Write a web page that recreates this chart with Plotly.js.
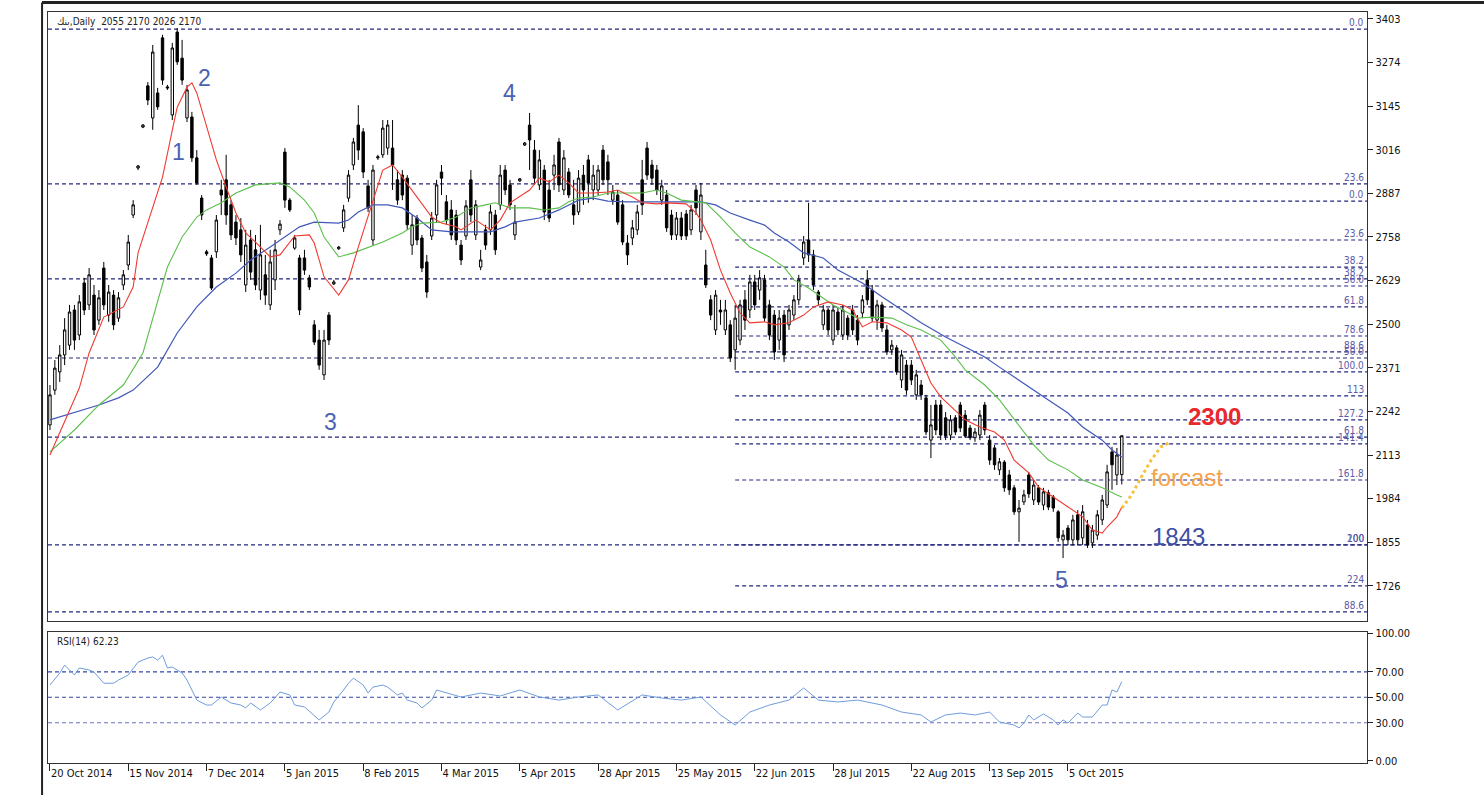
<!DOCTYPE html>
<html><head><meta charset="utf-8">
<script src="https://cdn.plot.ly/plotly-3.0.1.min.js"></script>
<style>html,body{margin:0;padding:0;background:#fff}#chart{width:1484px;height:795px}</style>
</head><body><div id="chart"></div>
<script>
// ---- tick labels (bar index based axis, 16 bars per label) ----
const dateTickIdx = [0,16,32,48,64,80,96,112,128,144,160,176,192,208];
const dateTickText = ["20 Oct 2014","15 Nov 2014","7 Dec 2014","5 Jan 2015","8 Feb 2015","4 Mar 2015","5 Apr 2015","28 Apr 2015","25 May 2015","22 Jun 2015","28 Jul 2015","22 Aug 2015","13 Sep 2015","5 Oct 2015"];
const priceTicks = [3403,3274,3145,3016,2887,2758,2629,2500,2371,2242,2113,1984,1855,1726];
const rsiTicks = [0,30,50,70,100];
const rsiTickText = ["0.00","30.00","50.00","70.00","100.00"];

// ---- daily OHLC ----
const openP = [2202,2305,2359,2409,2438,2542,2468,2622,2557,2586,
2512,2666,2527,2586,2518,2616,2675,2823,2962,3083,
3205,3110,3184,3347,3202,3119,3364,3287,3110,3113,
2992,2873,2714,2696,2714,2897,2927,2853,2802,2779,
2616,2749,2720,2601,2646,2557,2631,2779,3009,2867,
2725,2696,2696,2637,2498,2453,2350,2527,2619,2723,
2785,2873,2971,3089,3069,2909,2749,2992,3001,3021,
3021,2927,2941,2932,2734,2814,2755,2684,2761,2823,
2950,2862,2838,2823,2734,2761,2927,2764,2669,2779,
2779,2823,2853,2956,2912,2764,2924,3030,3089,3015,
2912,2956,2897,2941,3039,2897,2950,2853,2832,2941,
2986,2897,2897,3015,2980,2867,2882,2853,2740,2755,
2779,2927,3021,2971,2956,2867,2882,2823,2764,2814,
2826,2779,2897,2773,2675,2572,2483,2542,2483,2498,
2424,2453,2572,2542,2625,2601,2631,2557,2527,2453,
2527,2498,2527,2572,2696,2749,2705,2595,2498,2542,
2453,2536,2468,2518,2542,2512,2533,2631,2601,2512,
2557,2483,2424,2430,2335,2379,2379,2291,2320,2282,
2157,2261,2261,2223,2172,2223,2261,2231,2193,2164,
2172,2261,2157,2134,2069,2092,2054,2016,1945,1974,
2054,1980,2016,1965,2001,1989,1945,1862,1897,1862,
1936,1868,1906,1853,1876,1921,1965,2122,2054,2055];
const highP = [2320,2394,2438,2518,2557,2557,2586,2637,2666,2616,
2601,2684,2616,2601,2595,2660,2764,2867,2971,3092,
3216,3326,3199,3356,3208,3332,3376,3341,3208,3128,
3015,2882,2720,2705,2823,2927,3001,2867,2823,2814,
2779,2779,2764,2794,2705,2720,2749,2808,3021,2873,
2764,2705,2720,2646,2512,2483,2483,2536,2631,2731,
2853,2956,3051,3148,3080,2927,2971,3001,3104,3104,
3104,2956,2956,2941,2823,2823,2764,2705,2832,2927,
2971,2882,2867,2838,2749,2867,2956,2867,2720,2794,
2853,2838,2971,2971,2927,2853,2932,3039,3125,3045,
3015,2971,2927,3001,3051,3015,2962,2927,2956,2971,
3001,2971,2971,3030,3001,2912,2897,2867,2764,2808,
2853,2986,3039,2986,2971,2927,2897,2838,2832,2832,
2838,2853,2912,2918,2720,2586,2601,2572,2572,2512,
2557,2572,2601,2646,2646,2660,2646,2572,2542,2542,
2542,2557,2586,2646,2761,2859,2720,2601,2557,2548,
2557,2548,2557,2527,2557,2527,2586,2660,2616,2572,
2566,2498,2453,2438,2424,2394,2394,2365,2335,2291,
2261,2276,2276,2240,2231,2231,2270,2246,2202,2193,
2246,2270,2172,2143,2104,2098,2069,2024,1980,2010,
2063,2039,2024,2016,2010,1995,1950,1891,1906,1936,
1950,1965,1921,1906,1950,1995,2084,2137,2134,2170];
const lowP = [2187,2291,2329,2379,2424,2424,2453,2527,2542,2468,
2498,2542,2507,2483,2507,2601,2660,2814,2956,3080,
3148,3075,3134,3208,3193,3104,3267,3208,3098,2980,
2912,2808,2702,2601,2696,2823,2794,2749,2734,2684,
2595,2631,2601,2572,2557,2542,2601,2764,2844,2832,
2720,2527,2646,2601,2438,2365,2335,2438,2616,2720,
2773,2862,2956,2986,2932,2832,2734,2986,2992,3001,
2897,2853,2867,2779,2705,2734,2654,2578,2749,2802,
2882,2794,2749,2734,2675,2749,2802,2749,2660,2720,
2764,2705,2838,2882,2838,2749,2921,3027,2956,2912,
2897,2808,2802,2897,2891,2882,2873,2794,2823,2853,
2859,2867,2882,2912,2882,2853,2794,2734,2675,2734,
2764,2823,2927,2912,2882,2853,2773,2749,2749,2749,
2749,2764,2823,2749,2607,2512,2468,2498,2468,2388,
2365,2438,2483,2518,2542,2572,2507,2453,2394,2424,
2388,2483,2512,2557,2675,2684,2601,2557,2483,2468,
2438,2468,2453,2453,2468,2438,2518,2557,2507,2483,
2477,2409,2409,2350,2311,2291,2320,2276,2276,2172,
2104,2172,2157,2157,2157,2172,2181,2164,2157,2152,
2157,2172,2084,2069,2054,2004,1995,1936,1856,1965,
1986,1965,1965,1950,1950,1945,1856,1808,1847,1847,
1847,1847,1838,1838,1862,1906,1956,2010,2024,2026];
const closeP = [2291,2370,2409,2483,2536,2453,2566,2542,2646,2483,
2578,2557,2595,2498,2578,2646,2743,2853,2968,3089,
3163,3305,3143,3222,3199,3317,3276,3222,3193,2992,
2918,2823,2708,2607,2808,2882,2823,2764,2755,2705,
2734,2654,2616,2705,2586,2684,2720,2796,2867,2838,
2755,2542,2660,2610,2447,2379,2453,2453,2625,2728,
2838,2941,3039,3015,2950,2844,2956,2995,3080,3089,
2971,2867,2882,2794,2794,2749,2666,2595,2814,2912,
2932,2808,2764,2749,2690,2850,2823,2853,2690,2734,
2832,2720,2941,2897,2853,2802,2930,3036,3045,2932,
2986,2832,2814,2971,2912,2992,2882,2823,2932,2897,
2918,2941,2956,2927,2927,2891,2802,2743,2705,2785,
2832,2853,2941,2932,2897,2909,2785,2764,2814,2761,
2761,2838,2844,2882,2616,2527,2586,2536,2542,2400,
2518,2557,2512,2625,2557,2637,2518,2468,2418,2518,
2409,2542,2572,2631,2743,2705,2616,2572,2542,2483,
2542,2483,2542,2468,2483,2453,2572,2572,2518,2557,
2489,2418,2438,2359,2409,2305,2335,2350,2291,2181,
2202,2187,2172,2169,2217,2181,2193,2169,2164,2181,
2231,2187,2098,2084,2093,2016,2010,1945,1956,1995,
1998,2024,1974,2004,1959,1956,1868,1876,1862,1921,
1862,1945,1847,1891,1936,1980,2063,2084,2113,2170];

// ---- moving averages (bar index, value) ----
const maRedIdx = [0,6,8,11,15,17,18,21,23,25,26,28,29,30,32,34,36,38,40,42,45,47,50,53,54,56,59,61,63,66,68,70,72,75,78,80,83,84,87,90,92,94,98,100,102,104,106,108,111,114,116,119,121,124,126,130,132,133,135,137,139,141,143,146,148,151,154,156,159,162,164,166,168,171,174,176,178,180,182,185,187,190,193,195,197,200,202,205,208,211,213,215,216,218,219];
const maRedVal = [2113,2311,2415,2521,2551,2610,2711,2847,2935,3074,3142,3201,3214,3184,3083,2986,2906,2829,2770,2743,2699,2705,2761,2764,2740,2640,2586,2631,2728,2867,2956,2971,2935,2876,2817,2799,2788,2779,2808,2779,2808,2859,2897,2932,2921,2941,2918,2888,2888,2891,2897,2876,2859,2856,2859,2856,2829,2808,2749,2660,2592,2533,2504,2507,2498,2504,2527,2551,2566,2557,2542,2492,2507,2504,2483,2462,2394,2326,2285,2246,2217,2196,2181,2157,2098,2060,2018,1989,1959,1930,1891,1882,1900,1930,1959];
const maGreenIdx = [0,5,10,15,19,22,24,27,30,32,35,38,42,47,49,52,54,56,59,62,65,68,72,74,76,80,83,86,89,91,94,98,101,104,106,108,111,114,117,121,124,126,129,132,134,137,140,143,147,150,152,155,158,160,162,165,168,172,175,178,182,185,187,191,194,198,201,204,208,211,215,218,219];
const maGreenVal = [2122,2187,2261,2320,2415,2563,2669,2758,2817,2838,2859,2888,2912,2918,2906,2867,2829,2758,2699,2711,2728,2743,2770,2788,2799,2802,2817,2844,2853,2859,2844,2844,2838,2844,2862,2873,2876,2888,2888,2888,2897,2888,2867,2862,2859,2817,2770,2728,2699,2669,2631,2607,2578,2557,2542,2518,2521,2518,2498,2483,2453,2403,2365,2320,2276,2202,2143,2098,2069,2039,2016,1995,1989];
const maBlueIdx = [0,5,10,14,17,22,26,30,34,38,41,45,48,51,54,59,61,63,66,69,72,75,78,82,86,90,93,95,100,104,108,111,114,118,125,133,136,139,143,146,148,151,154,158,161,166,170,174,178,183,187,191,194,198,201,204,208,211,215,217,219];
const maBlueVal = [2217,2240,2261,2282,2305,2373,2474,2551,2610,2651,2690,2728,2758,2788,2802,2799,2808,2832,2853,2853,2844,2814,2779,2773,2773,2773,2788,2802,2814,2838,2867,2873,2864,2862,2862,2862,2853,2829,2808,2793,2770,2743,2711,2696,2660,2622,2581,2542,2504,2462,2433,2403,2373,2335,2305,2276,2237,2196,2157,2128,2107];

// ---- forecast path ----
const fcIdx = [219,221,223,225,227,229];
const fcVal = [1956,1995,2048,2098,2137,2152];

// ---- RSI(14) ----
const rsiIdx = [0,2,3,4,5,6,8,9,10,11,13,14,16,17,18,20,21,22,23,24,25,27,28,29,30,32,33,35,36,37,39,40,41,43,45,47,49,50,52,54,55,57,58,60,61,62,64,65,66,68,69,71,72,73,75,76,78,79,84,88,92,96,100,104,108,112,116,121,125,129,133,137,140,143,147,151,154,157,161,165,170,174,178,180,183,186,189,192,194,197,198,199,200,201,203,205,206,207,208,210,211,213,215,216,217,218,219];
const rsiVal = [59.6,69,75.3,71.4,67.5,73,71.4,69.8,65,61,61,63.5,67.5,73,77.6,80.8,81.6,79.2,83,73,73.7,69,63.5,55.7,47.8,43.9,43.9,50.2,47.8,45.5,43.9,41.6,45.5,40,45.5,54.1,51.8,43.9,42.4,36.1,32.2,38.4,46.3,55.7,61,65,59.6,53.3,58,59.6,58,51.8,53.3,47.8,45.5,41.6,47.8,55.7,50.2,53.3,51,55.7,50.2,47.8,50.2,51.8,40,51.8,49.4,47.8,50.2,36.1,28.2,38.4,43.9,47.8,57.3,47.8,46.3,47.8,43.9,38.4,36.1,30.6,36.1,37.6,36.1,38.4,30.6,28.2,25.9,29.8,36.1,32.2,36.9,32.2,28.2,32.2,29.8,37.6,34.5,34.5,43.9,43.9,55.7,54.1,62.23];

// ---- Fibonacci levels (value, first bar, label) ----
const fibVal   = [3373,2915,2864,2749,2669,2634,2613,2551,2465,2418,2400,2359,2288,2217,2166,2146,2039,1847,1847,1726,1649];
const fibStart = [-1,-1,140,140,140,-1,140,140,140,140,-1,140,140,140,-1,140,140,-1,140,140,-1];
const fibLabel = ["0.0","23.6","0.0","23.6","38.2","38.2","50.0","61.8","78.6","88.6","50.0","100.0","113","127.2","61.8","141.4","161.8","100","200","224","88.6"];

// ---- wave labels ----
const waveText = ["1","2","3","4","5"];
const waveIdx  = [26.2,31.5,57.4,93.8,206.6];
const waveVal  = [3009,3228,2211,3184,1743];

const XMIN = -0.4, XMAX = 269.1;
const barIdx = closeP.map((_, i) => i);
const FONT = "DejaVu Sans Condensed, DejaVu Sans, sans-serif";

const traces = [
  {type:'candlestick', x:barIdx, open:openP, high:highP, low:lowP, close:closeP,
   xaxis:'x', yaxis:'y',
   increasing:{line:{color:'#000', width:1}, fillcolor:'#ffffff'},
   decreasing:{line:{color:'#000', width:1}, fillcolor:'#000000'},
   whiskerwidth:0, hoverinfo:'skip', showlegend:false},
  {type:'scatter', mode:'lines', x:maBlueIdx, y:maBlueVal, line:{color:'#4058b8', width:1.2}, xaxis:'x', yaxis:'y', hoverinfo:'skip'},
  {type:'scatter', mode:'lines', x:maGreenIdx, y:maGreenVal, line:{color:'#5cbf4c', width:1.1}, xaxis:'x', yaxis:'y', hoverinfo:'skip'},
  {type:'scatter', mode:'lines', x:maRedIdx, y:maRedVal, line:{color:'#f03a30', width:1.1}, xaxis:'x', yaxis:'y', hoverinfo:'skip'},
  {type:'scatter', mode:'lines', x:fcIdx, y:fcVal, line:{color:'#f6c23c', width:3, dash:'dot'}, xaxis:'x', yaxis:'y', hoverinfo:'skip'},
  {type:'scatter', mode:'lines', x:rsiIdx, y:rsiVal, line:{color:'#6f9ddc', width:1}, xaxis:'x2', yaxis:'y2', hoverinfo:'skip'}
];

const shapes = [];
fibVal.forEach((v, k) => {
  shapes.push({type:'line', xref:'x', yref:'y', x0:(fibStart[k] < 0 ? XMIN : fibStart[k]), x1:XMAX, y0:v, y1:v,
    line:{color:'#262680', width:1.2, dash:'4px,3px'}, layer:'below'});
});
[70,50,30].forEach(v => {
  shapes.push({type:'line', xref:'x2', yref:'y2', x0:XMIN, x1:XMAX, y0:v, y1:v,
    line:{color: v===30 ? '#6a74c4' : '#3446a8', width:1.2, dash:'4px,3px'}, layer:'below'});
});
// outer window frame
shapes.push({type:'line', xref:'paper', yref:'paper', x0:-0.0045, x1:1.09, y0:1.0125, y1:1.0125, line:{color:'#222', width:3}});
shapes.push({type:'line', xref:'paper', yref:'paper', x0:-0.0045, x1:-0.0045, y0:-0.05, y1:1.0125, line:{color:'#222', width:2}});

const annotations = [];
fibLabel.forEach((t, k) => {
  annotations.push({xref:'x', yref:'y', x:XMAX-0.3, y:fibVal[k], text:t, showarrow:false,
    xanchor:'right', yanchor:'bottom', yshift:-1, font:{family:FONT, size:10, color:'#5a5aa6'}});
});
waveText.forEach((t, k) => {
  annotations.push({xref:'x', yref:'y', x:waveIdx[k], y:waveVal[k], text:t, showarrow:false,
    font:{family:'Liberation Sans, Arial, sans-serif', size:23, color:'#4a62b2'}});
});
annotations.push({xref:'x', yref:'y', x:238, y:2226, text:'<b>2300</b>', showarrow:false,
  font:{family:'Liberation Sans, Arial, sans-serif', size:24, color:'#e8282c'}});
annotations.push({xref:'x', yref:'y', x:232.3, y:2045, text:'forcast', showarrow:false,
  font:{family:'Liberation Sans, Arial, sans-serif', size:24, color:'#f6a24a'}});
annotations.push({xref:'x', yref:'y', x:230.5, y:1871, text:'1843', showarrow:false,
  font:{family:'Liberation Sans, Arial, sans-serif', size:24, color:'#3d4fa2'}});
annotations.push({xref:'paper', yref:'paper', x:0.005, y:0.998, xanchor:'left', yanchor:'top',
  text:'بنك,Daily  2055 2170 2026 2170', showarrow:false, font:{family:FONT, size:10, color:'#222'}});
annotations.push({xref:'paper', yref:'paper', x:0.005, y:0.172, xanchor:'left', yanchor:'top',
  text:'RSI(14) 62.23', showarrow:false, font:{family:FONT, size:10, color:'#222'}});

const layout = {
  width:1484, height:795,
  margin:{l:48, r:117, t:12, b:32},
  paper_bgcolor:'#ffffff', plot_bgcolor:'#ffffff',
  showlegend:false,
  font:{family:FONT, size:11, color:'#111'},
  xaxis:{domain:[0,1], anchor:'y', range:[XMIN, XMAX], showticklabels:false, ticks:'',
    showline:true, mirror:true, linecolor:'#333', linewidth:1.2, showgrid:false, zeroline:false,
    rangeslider:{visible:false}, fixedrange:true},
  yaxis:{domain:[0.1891, 1], anchor:'x', side:'right', range:[1622, 3423.5],
    tickvals:priceTicks, ticktext:priceTicks.map(String), ticks:'outside', ticklen:5, tickcolor:'#222',
    showline:true, mirror:true, linecolor:'#333', linewidth:1.2, showgrid:false, zeroline:false,
    tickfont:{family:FONT, size:11, color:'#111'}},
  xaxis2:{domain:[0,1], anchor:'y2', range:[XMIN, XMAX], tickvals:dateTickIdx, ticktext:dateTickText,
    ticks:'outside', ticklen:7, tickcolor:'#222', ticklabelposition:'outside right',
    showline:true, mirror:true, linecolor:'#333', linewidth:1.2, showgrid:false, zeroline:false,
    tickfont:{family:FONT, size:11, color:'#111'}},
  yaxis2:{domain:[0, 0.1744], anchor:'x2', side:'right', range:[-1.6, 101.2],
    tickvals:rsiTicks, ticktext:rsiTickText, ticks:'outside', ticklen:5, tickcolor:'#222',
    showline:true, mirror:true, linecolor:'#333', linewidth:1.2, showgrid:false, zeroline:false,
    tickfont:{family:FONT, size:11, color:'#111'}},
  shapes:shapes,
  annotations:annotations
};

Plotly.newPlot('chart', traces, layout, {staticPlot:true, displayModeBar:false});
</script>
</body></html>
